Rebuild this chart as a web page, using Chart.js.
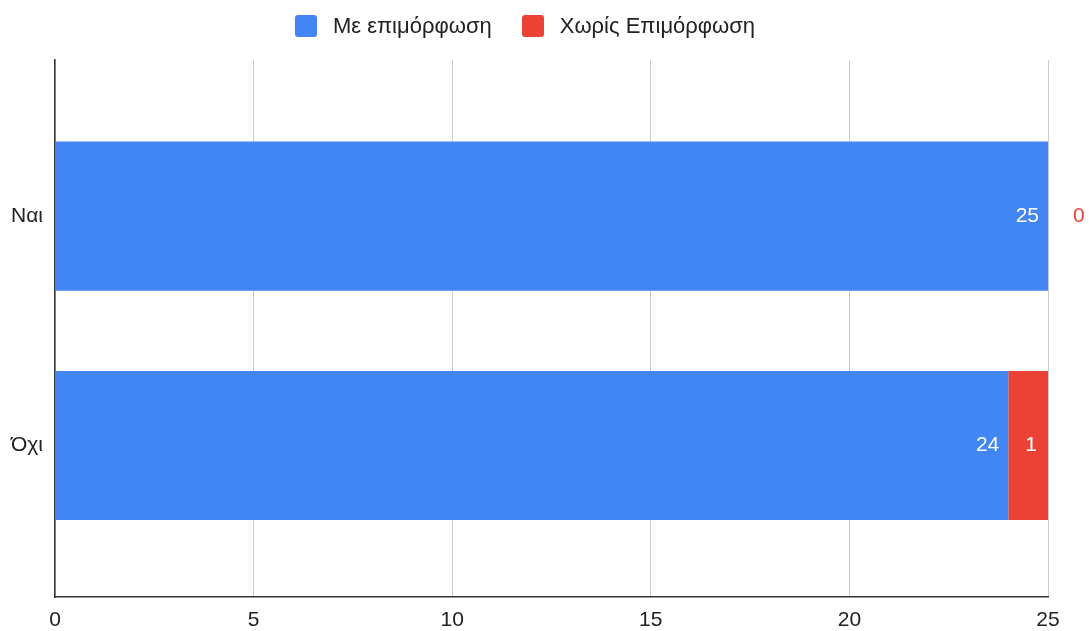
<!DOCTYPE html>
<html>
<head>
<meta charset="utf-8">
<script src="https://cdn.jsdelivr.net/npm/chart.js@4/dist/chart.umd.min.js"></script>
<style>
  html, body { margin: 0; padding: 0; background: #ffffff; }
  #wrap { position: relative; width: 1089px; height: 631px; }
  #legend {
    position: absolute; top: 15px; left: 0; width: 1050px;
    display: flex; justify-content: center; align-items: center;
    font-family: "Liberation Sans", Arial, sans-serif; font-size: 22px; color: #222222;
    line-height: 22px;
  }
  #legend .item { display: flex; align-items: center; margin: 0 15px; }
  #legend .box { width: 22px; height: 22px; border-radius: 3px; margin-right: 16px; }
</style>
</head>
<body>
<div id="wrap">
  <canvas id="chart" width="1089" height="631"></canvas>
  <div id="legend"></div>
</div>
<script>
// Categories (rows) and series values
const categories = ['Ναι', 'Όχι'];
const withTraining = [25, 24];      // Με επιμόρφωση
const withoutTraining = [0, 1];     // Χωρίς Επιμόρφωση
const seriesNames = ['Με επιμόρφωση', 'Χωρίς Επιμόρφωση'];
const xTicks = [0, 5, 10, 15, 20, 25];

const BLUE = '#4285F4';
const RED = '#EA4335';
const FONT = '"Liberation Sans", Arial, sans-serif';

// Rows sit on a linear index axis so each category gets its own position
const toPoints = vals => vals.map((v, i) => ({ x: v, y: i }));

// Value labels: inside the end of each segment, or just past it when the segment is empty
const valueLabels = {
  id: 'valueLabels',
  afterDatasetsDraw(chart) {
    const ctx = chart.ctx;
    ctx.save();
    ctx.font = '21px ' + FONT;
    ctx.textBaseline = 'middle';
    chart.data.datasets.forEach((ds, di) => {
      const meta = chart.getDatasetMeta(di);
      meta.data.forEach((bar, i) => {
        const v = ds.data[i].x;
        const txt = String(v);
        const w = Math.abs(bar.x - bar.base);
        if (v === 0 || ctx.measureText(txt).width + 12 > w) {
          ctx.fillStyle = ds.backgroundColor;
          ctx.textAlign = 'left';
          ctx.fillText(txt, bar.x + 25, bar.y);
        } else {
          ctx.fillStyle = '#ffffff';
          ctx.textAlign = 'right';
          ctx.fillText(txt, bar.x - (di === 0 ? 9 : 11), bar.y);
        }
      });
    });
    ctx.restore();
  }
};

const chart = new Chart(document.getElementById('chart'), {
  type: 'bar',
  data: {
    datasets: [
      { label: seriesNames[0], data: toPoints(withTraining), backgroundColor: BLUE, borderWidth: 0 },
      { label: seriesNames[1], data: toPoints(withoutTraining), backgroundColor: RED, borderWidth: 0 }
    ]
  },
  options: {
    indexAxis: 'y',
    responsive: false,
    animation: false,
    devicePixelRatio: 1,
    barPercentage: 0.65,
    categoryPercentage: 1,
    layout: { padding: { left: 0, right: 41, top: 60, bottom: 0 } },
    plugins: {
      legend: { display: false },
      tooltip: { enabled: false }
    },
    scales: {
      x: {
        type: 'linear',
        stacked: true,
        min: 0,
        max: 25,
        afterBuildTicks: s => { s.ticks = xTicks.map(v => ({ value: v })); },
        afterFit: s => { s.height = 34; },
        grid: { color: '#cccccc', lineWidth: 1, drawTicks: false },
        border: { display: true, color: '#333333', width: 1.5 },
        ticks: { font: { family: FONT, size: 21 }, color: '#222222', padding: 11 }
      },
      y: {
        type: 'linear',
        stacked: true,
        reverse: true,
        offset: false,
        min: -0.68,
        max: 1.66,
        afterBuildTicks: s => { s.ticks = categories.map((c, i) => ({ value: i })); },
        afterFit: s => { s.width = 55; },
        grid: { display: false, drawTicks: false, offset: false },
        border: { display: true, color: '#333333', width: 1.5 },
        ticks: {
          font: { family: FONT, size: 21 },
          color: '#222222',
          padding: 12,
          callback: v => categories[v] ?? ''
        }
      }
    }
  },
  plugins: [valueLabels]
});

// Legend built from the chart's own datasets
const legendEl = document.getElementById('legend');
chart.data.datasets.forEach(ds => {
  const item = document.createElement('span');
  item.className = 'item';
  const box = document.createElement('span');
  box.className = 'box';
  box.style.background = ds.backgroundColor;
  const label = document.createElement('span');
  label.textContent = ds.label;
  item.appendChild(box);
  item.appendChild(label);
  legendEl.appendChild(item);
});
</script>
</body>
</html>
